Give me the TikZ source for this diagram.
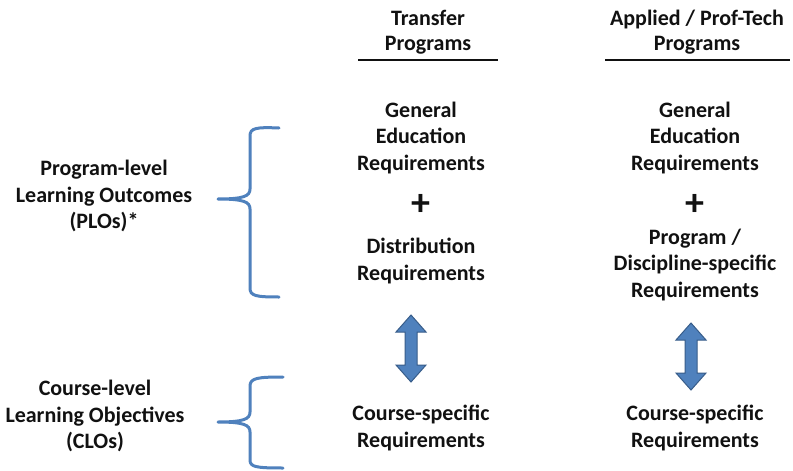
\documentclass[tikz,border=0pt]{standalone}
\usepackage{fontspec}
\setmainfont{Carlito}
\usetikzlibrary{calc}
\definecolor{brace}{HTML}{4F81BD}
\definecolor{arrowfill}{HTML}{4F81BD}
\definecolor{arrowedge}{HTML}{385D8A}
\definecolor{ink}{HTML}{111111}
\tikzset{
  lbl/.style={align=center, text=ink, font=\bfseries\fontsize{22}{26.5}\selectfont, inner sep=0pt},
  head/.style={align=center, text=ink, font=\bfseries\fontsize{22}{24.5}\selectfont, inner sep=0pt},
  plus/.style={text=ink, font=\bfseries\fontsize{38}{38}\selectfont, inner sep=0pt},
  rule/.style={draw=ink, line width=1.3pt},
  brk/.style={draw=brace, line width=3pt, line cap=round, line join=round},
  fatarrow/.style={fill=arrowfill, draw=arrowedge, line width=1pt, line join=miter},
}
% two-headed block arrow centred on a coordinate
\newcommand{\blockarrow}[1]{%
  \path[fatarrow] ($(#1)+(0,-33.5)$) -- ++(15,17) -- ++(-9,0) -- ++(0,33) -- ++(9,0)
    -- ++(-15,17) -- ++(-15,-17) -- ++(9,0) -- ++(0,-33) -- ++(-9,0) -- cycle;}
\begin{document}
\begin{tikzpicture}[x=1pt,y=-1pt]
\useasboundingbox[fill=white] (0,0) rectangle (793,471);

% column headings
\node[head] (hT) at (428,32) {Transfer\\Programs};
\node[head] (hA) at (697,32) {Applied / Prof-Tech\\Programs};
\coordinate (uT1) at (358,60); \coordinate (uT2) at (498,60);
\coordinate (uA1) at (605,60); \coordinate (uA2) at (790,60);
\draw[rule] (uT1) -- (uT2);
\draw[rule] (uA1) -- (uA2);

% transfer column
\node[lbl] (geT) at (421,138) {General\\Education\\Requirements};
\node[plus] (pT) at (421,205) {+};
\node[lbl] (drT) at (421,261) {Distribution\\Requirements};
\node[lbl] (csT) at (421,428) {Course-specific\\Requirements};

% applied column
\node[lbl] (geA) at (695,138) {General\\Education\\Requirements};
\node[plus] (pA) at (695,205) {+};
\node[lbl] (dsA) at (695,265) {Program /\\Discipline-specific\\Requirements};
\node[lbl] (csA) at (695,428) {Course-specific\\Requirements};

% row labels
\node[lbl] (plo) at (104,196) {Program-level\\Learning Outcomes\\(PLOs)*};
\node[lbl] (clo) at (95,416) {Course-level\\Learning Objectives\\(CLOs)};

% braces
\draw[brk] (279,128) .. controls (256,127) and (250,128) .. (250,136) -- (250,189)
  .. controls (250,196) and (244,199) .. (218,199)
  .. controls (244,199) and (250,202) .. (250,209) -- (250,288)
  .. controls (250,296) and (256,297) .. (279,297);
\draw[brk] (283,377) .. controls (258,377) and (250,378) .. (250,386) -- (250,412)
  .. controls (250,419) and (244,422) .. (218,422)
  .. controls (244,422) and (250,425) .. (250,432) -- (250,460)
  .. controls (250,467) and (256,468) .. (283,468);

% double-headed block arrows between the levels
\coordinate (aT) at (411,348.5);
\coordinate (aA) at (691,356.5);
\blockarrow{aT}
\blockarrow{aA}
\end{tikzpicture}
\end{document}
